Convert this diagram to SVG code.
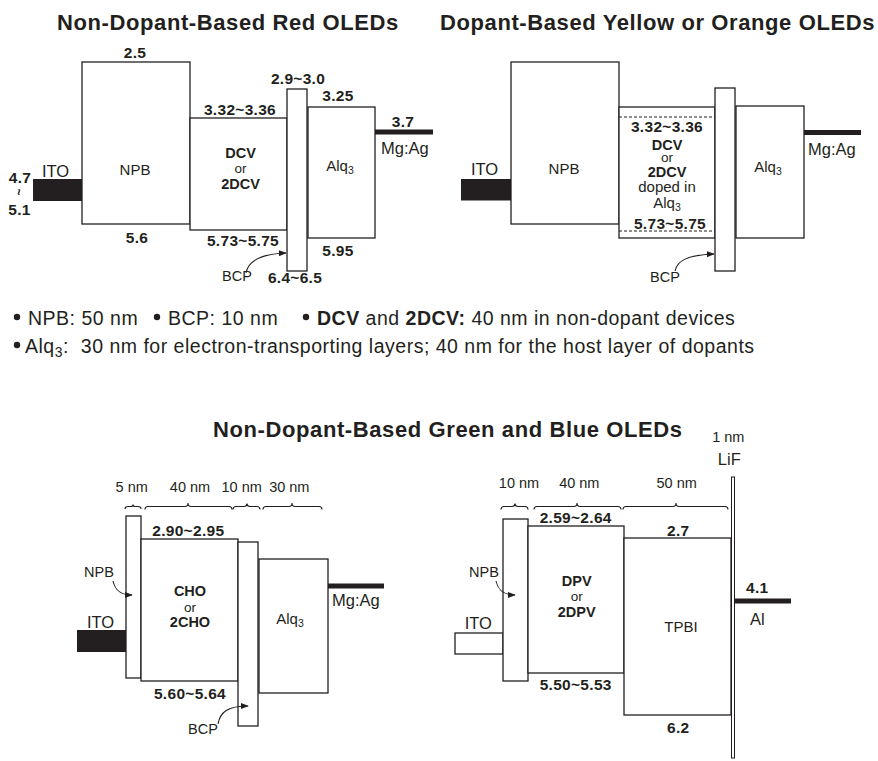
<svg xmlns="http://www.w3.org/2000/svg" width="878" height="761" viewBox="0 0 878 761">
<style>
text { font-family: "Liberation Sans", Arial, Helvetica, sans-serif; fill: #231f20; }
.title { font-size: 22px; font-weight: bold; letter-spacing: 0.6px; }
.num { font-size: 15.5px; font-weight: bold; letter-spacing: 0.3px; text-anchor: middle; }
.nb { font-size: 14.5px; font-weight: bold; text-anchor: middle; }
.lbl { font-size: 15px; text-anchor: middle; }
.or { font-size: 13.5px; text-anchor: middle; }
.el { font-size: 16.5px; }
.sm { font-size: 14.5px; }
.nm { font-size: 14.5px; text-anchor: middle; }
.leg { font-size: 19.5px; letter-spacing: 0.5px; }
.box { fill: #fff; stroke: #231f20; stroke-width: 1.3; }
.bar { fill: #231f20; }
.metal { stroke: #231f20; stroke-width: 5; fill: none; }
.brace { fill: none; stroke: #231f20; stroke-width: 1.1; }
.arr { fill: none; stroke: #231f20; stroke-width: 1.1; marker-end: url(#ah); }
.dash { stroke: #231f20; stroke-width: 1; stroke-dasharray: 3 2; }
.dot { fill: #231f20; }
</style>
<defs>
<marker id="ah" viewBox="0 0 10 10" refX="9" refY="5" markerWidth="8" markerHeight="6" markerUnits="userSpaceOnUse" orient="auto" preserveAspectRatio="none">
<path d="M0,0 L10,5 L0,10 z" fill="#231f20"/>
</marker>
</defs>
<rect width="878" height="761" fill="#fff"/>

<!-- Titles -->
<g id="titles">
<text class="title" x="57" y="29.5">Non-Dopant-Based Red OLEDs</text>
<text class="title" x="440" y="29.5">Dopant-Based Yellow or Orange OLEDs</text>
<text class="title" x="213" y="437">Non-Dopant-Based Green and Blue OLEDs</text>
</g>

<!-- ===== Top-left: red ===== -->
<g id="red-ito">
<rect class="bar" x="33" y="179" width="49" height="22"/>
<text class="el" x="42" y="177">ITO</text>
<text class="num" x="20" y="183">4.7</text>
<text transform="translate(14,192) rotate(90)" style="font-size:12px;font-weight:bold;text-anchor:middle">~</text>
<text class="num" x="19.5" y="215">5.1</text>
</g>
<g id="red-npb">
<rect class="box" x="82" y="62" width="108" height="162"/>
<text class="num" x="135" y="58">2.5</text>
<text class="lbl" x="135" y="175">NPB</text>
<text class="num" x="137" y="243">5.6</text>
</g>
<g id="red-dcv">
<rect class="box" x="190" y="118" width="97" height="112"/>
<text class="num" x="240" y="115">3.32~3.36</text>
<text class="nb" x="240.5" y="158">DCV</text>
<text class="or" x="240.5" y="173">or</text>
<text class="nb" x="240.5" y="188.5">2DCV</text>
<text class="num" x="243" y="246">5.73~5.75</text>
</g>
<g id="red-bcp">
<rect class="box" x="287" y="89" width="20" height="182"/>
<text class="num" x="298" y="84">2.9~3.0</text>
<text class="num" x="295" y="283">6.4~6.5</text>
<text class="sm" x="222" y="281">BCP</text>
</g>
<g id="red-alq">
<rect class="box" x="308" y="107" width="67" height="131"/>
<text class="num" x="338" y="101">3.25</text>
<text class="lbl" x="340" y="171">Alq<tspan font-size="10.5" dy="3">3</tspan></text>
<text class="num" x="338" y="256">5.95</text>
</g>
<g id="red-cathode">
<line class="metal" x1="375" y1="132" x2="433" y2="132"/>
<text class="num" x="403" y="127">3.7</text>
<text class="el" x="381" y="154">Mg:Ag</text>
</g>

<!-- ===== Top-right: yellow/orange ===== -->
<g id="yo-ito">
<rect class="bar" x="461" y="179" width="50" height="21.5"/>
<text class="el" x="471" y="175">ITO</text>
</g>
<g id="yo-npb">
<rect class="box" x="511" y="62" width="108" height="162"/>
<text class="lbl" x="564" y="174">NPB</text>
</g>
<g id="yo-dcv">
<rect class="box" x="619" y="107" width="96" height="131"/>
<line class="dash" x1="619" y1="117" x2="715" y2="117"/>
<line class="dash" x1="619" y1="231" x2="715" y2="231"/>
<text class="num" x="667" y="132">3.32~3.36</text>
<text class="nb" x="667" y="150">DCV</text>
<text class="or" x="667" y="162">or</text>
<text class="nb" x="667" y="177">2DCV</text>
<text class="lbl" x="667" y="192">doped in</text>
<text class="lbl" x="667" y="208">Alq<tspan font-size="10.5" dy="3">3</tspan></text>
<text class="num" x="670" y="229">5.73~5.75</text>
</g>
<g id="yo-bcp">
<rect class="box" x="715" y="88" width="20" height="183"/>
<text class="sm" x="650" y="282">BCP</text>
</g>
<g id="yo-alq">
<rect class="box" x="736" y="106" width="68" height="132"/>
<text class="lbl" x="768" y="172">Alq<tspan font-size="10.5" dy="3">3</tspan></text>
</g>
<g id="yo-cathode">
<line class="metal" x1="804" y1="132.5" x2="861" y2="132.5"/>
<text class="el" x="808" y="155">Mg:Ag</text>
</g>

<!-- ===== Legend ===== -->
<g id="legend">
<circle class="dot" cx="17" cy="317" r="3.2"/>
<text class="leg" x="28" y="325">NPB: 50 nm</text>
<circle class="dot" cx="157" cy="317" r="3.2"/>
<text class="leg" x="168" y="325">BCP: 10 nm</text>
<circle class="dot" cx="306" cy="317" r="3.2"/>
<text class="leg" x="317" y="325"><tspan font-weight="bold">DCV</tspan> and <tspan font-weight="bold">2DCV:</tspan> 40 nm in non-dopant devices</text>
<circle class="dot" cx="17" cy="345" r="3.2"/>
<text class="leg" x="25" y="353">Alq<tspan font-size="14" dy="4">3</tspan><tspan dy="-4">:</tspan><tspan dx="6"> 30 nm for electron-transporting layers; 40 nm for the host layer of dopants</tspan></text>
</g>

<!-- ===== Bottom-left: green ===== -->
<g id="g-thickness">
<text class="nm" x="131.7" y="491.7">5 nm</text>
<text class="nm" x="190" y="491.7">40 nm</text>
<text class="nm" x="241.7" y="491.7">10 nm</text>
<text class="nm" x="289.3" y="491.7">30 nm</text>
</g>
<g id="g-ito">
<rect class="bar" x="77" y="630" width="49" height="22"/>
<text class="el" x="87" y="628">ITO</text>
</g>
<g id="g-npb">
<rect class="box" x="126" y="516" width="15" height="162"/>
<text class="sm" x="84" y="577">NPB</text>
</g>
<g id="g-cho">
<rect class="box" x="141" y="539" width="97" height="142"/>
<text class="num" x="188.3" y="536">2.90~2.95</text>
<text class="nb" x="190" y="596">CHO</text>
<text class="or" x="190" y="611.5">or</text>
<text class="nb" x="190" y="627">2CHO</text>
<text class="num" x="190" y="699">5.60~5.64</text>
</g>
<g id="g-bcp">
<rect class="box" x="238" y="542" width="20" height="184"/>
<text class="sm" x="188" y="734">BCP</text>
</g>
<g id="g-alq">
<rect class="box" x="259" y="559" width="69" height="134"/>
<text class="lbl" x="290" y="624">Alq<tspan font-size="10.5" dy="3">3</tspan></text>
</g>
<g id="g-cathode">
<line class="metal" x1="328" y1="586" x2="384" y2="586"/>
<text class="el" x="332" y="606">Mg:Ag</text>
</g>

<!-- ===== Bottom-right: blue ===== -->
<g id="b-thickness">
<text class="nm" x="519" y="488.3">10 nm</text>
<text class="nm" x="579.3" y="488.3">40 nm</text>
<text class="nm" x="676.7" y="488.3">50 nm</text>
</g>
<g id="b-lif">
<text class="nm" x="728.3" y="441.7">1 nm</text>
<text class="el" x="729.3" y="465" text-anchor="middle">LiF</text>
<rect x="731.5" y="477" width="3" height="281" fill="#fff" stroke="#231f20" stroke-width="1"/>
</g>
<g id="b-ito">
<rect class="box" x="455" y="633" width="48" height="21"/>
<text class="el" x="478.3" y="629.3" text-anchor="middle">ITO</text>
</g>
<g id="b-npb">
<rect class="box" x="503" y="519" width="25" height="162"/>
<text class="sm" x="469" y="577">NPB</text>
</g>
<g id="b-dpv">
<rect class="box" x="528" y="526" width="96" height="147"/>
<text class="num" x="575.7" y="523.3">2.59~2.64</text>
<text class="nb" x="576.7" y="586">DPV</text>
<text class="or" x="576.7" y="601">or</text>
<text class="nb" x="576.7" y="617">2DPV</text>
<text class="num" x="575.7" y="690">5.50~5.53</text>
</g>
<g id="b-tpbi">
<rect class="box" x="624" y="538" width="107" height="177"/>
<text class="num" x="678.3" y="536">2.7</text>
<text class="lbl" x="681" y="632">TPBI</text>
<text class="num" x="678.3" y="733.3">6.2</text>
</g>
<g id="b-cathode">
<line class="metal" x1="735" y1="601" x2="791" y2="601"/>
<text class="num" x="757.3" y="593.3">4.1</text>
<text class="el" x="750" y="625">Al</text>
</g>

<!-- ===== Connectors: arrows and braces ===== -->
<g id="connectors">
<path class="arr" d="M246 273 C248 262 258 254 286 253"/>
<path class="arr" d="M675 271 C677 261 687 255 714 254"/>
<path class="arr" d="M113 581 C115 590 120 595 132 595"/>
<path class="arr" d="M218 724 C220 712 228 706 248 706"/>
<path class="arr" d="M496 581 C498 590 503 595 515 595"/>
<path class="brace" d="M125 509 Q125 506.5 128 506.5 L131 506.5 Q133 506.5 133 504.5 Q133 506.5 135 506.5 L138 506.5 Q141 506.5 141 509"/>
<path class="brace" d="M145 509.5 Q145 506.5 148 506.5 L185 506.5 Q188 506.5 188 503 Q188 506.5 191 506.5 L229 506.5 Q232 506.5 232 509.5"/>
<path class="brace" d="M233 509.5 Q233 506.5 236 506.5 L244 506.5 Q247 506.5 247 503.5 Q247 506.5 250 506.5 L257 506.5 Q260 506.5 260 509.5"/>
<path class="brace" d="M263 509.5 Q263 506.5 266 506.5 L289 506.5 Q292 506.5 292 503 Q292 506.5 295 506.5 L319 506.5 Q322 506.5 322 509.5"/>
<path class="brace" d="M501 509.5 Q501 506.5 504 506.5 L512 506.5 Q515 506.5 515 503.5 Q515 506.5 518 506.5 L525 506.5 Q528 506.5 528 509.5"/>
<path class="brace" d="M534 509.5 Q534 506.5 537 506.5 L574 506.5 Q577 506.5 577 503 Q577 506.5 580 506.5 L618 506.5 Q621 506.5 621 509.5"/>
<path class="brace" d="M623 509.5 Q623 506.5 626 506.5 L673 506.5 Q676 506.5 676 503 Q676 506.5 679 506.5 L725 506.5 Q728 506.5 728 509.5"/>
</g>
</svg>
